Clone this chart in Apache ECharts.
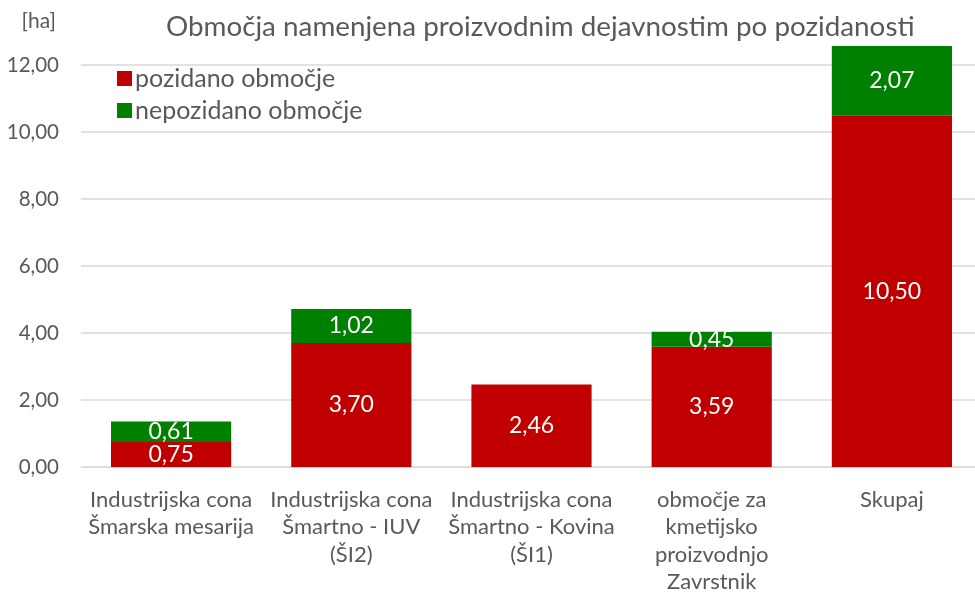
<!DOCTYPE html>
<html>
<head>
<meta charset="utf-8">
<script src="https://cdn.jsdelivr.net/npm/echarts@6/dist/echarts.min.js"></script>
<style>
html,body{margin:0;padding:0;background:#fff;overflow:hidden;}
#chart{width:992px;height:597px;}
</style>
</head>
<body>
<div id="chart"></div>
<script>
var categories = [
    'Industrijska cona\nŠmarska mesarija',
    'Industrijska cona\nŠmartno - IUV\n(ŠI2)',
    'Industrijska cona\nŠmartno - Kovina\n(ŠI1)',
    'območje za\nkmetijsko\nproizvodnjo\nZavrstnik',
    'Skupaj'
];
var pozidano = [0.75, 3.70, 2.46, 3.59, 10.50];
var nepozidano = [0.61, 1.02, null, 0.45, 2.07];

var FONT = 'Lato';
var myChart = echarts.init(document.getElementById('chart'));

function fmt(v){
    return v.toFixed(2).replace('.', ',');
}

var labelStyle = {
    show: true,
    position: 'inside',
    color: '#fff',
    fontFamily: FONT,
    fontSize: 23,
    formatter: function(p){ return p.value == null ? '' : fmt(p.value); }
};

myChart.setOption({
    animation: false,
    textStyle: {fontFamily: FONT},
    title: {
        text: 'Območja namenjena proizvodnim dejavnostim po pozidanosti',
        left: 161,
        top: 8,
        textStyle: {color: '#595959', fontSize: 27.8, fontWeight: 'normal', fontFamily: FONT}
    },
    legend: {
        orient: 'vertical',
        left: 112,
        top: 61,
        itemWidth: 15,
        itemHeight: 15,
        itemGap: 7,
        icon: 'rect',
        textStyle: {color: '#595959', fontSize: 25, fontFamily: FONT, padding: [0, 0, 0, -2]},
        data: ['pozidano območje', 'nepozidano območje']
    },
    grid: {left: 81, width: 901, top: 65, bottom: 130},
    xAxis: {
        type: 'category',
        data: categories,
        axisLine: {lineStyle: {color: '#d9d9d9', width: 1}},
        axisTick: {show: false},
        axisLabel: {color: '#595959', fontSize: 22, fontFamily: FONT, lineHeight: 27.5, margin: 19, interval: 0}
    },
    yAxis: {
        type: 'value',
        min: 0,
        max: 12,
        interval: 2,
        name: '[ha]',
        nameLocation: 'end',
        nameGap: 33,
        nameTextStyle: {color: '#595959', fontSize: 21, fontFamily: FONT, align: 'right', padding: [0, 25, 0, 0]},
        axisLine: {show: false},
        axisTick: {show: false},
        splitLine: {lineStyle: {color: '#d9d9d9', width: 1.5}},
        axisLabel: {color: '#595959', fontSize: 20.5, fontFamily: FONT, margin: 22, formatter: fmt}
    },
    series: [
        {
            name: 'pozidano območje',
            type: 'bar',
            stack: 'a',
            clip: false,
            barCategoryGap: '33.3%',
            data: pozidano,
            itemStyle: {color: '#c00000'},
            label: labelStyle
        },
        {
            name: 'nepozidano območje',
            type: 'bar',
            stack: 'a',
            clip: false,
            data: nepozidano,
            itemStyle: {color: '#008000'},
            label: labelStyle
        }
    ]
});

window.onresize = function(){
    myChart.resize();
};
</script>
</body>
</html>
